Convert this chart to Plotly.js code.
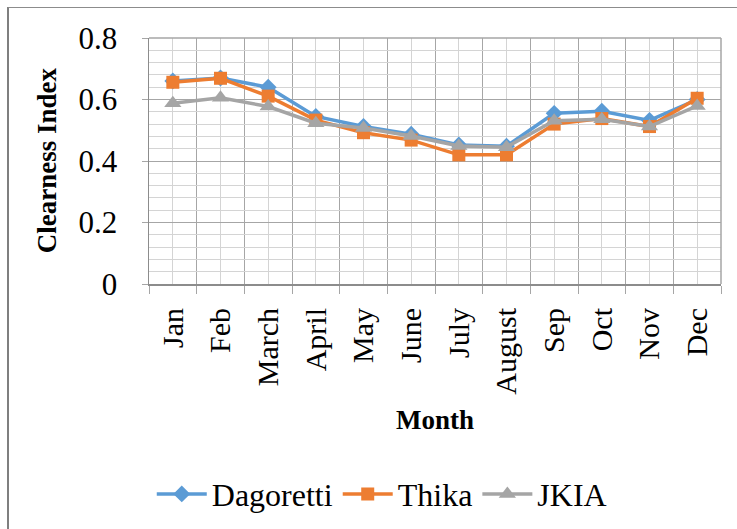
<!DOCTYPE html>
<html>
<head>
<meta charset="utf-8">
<script src="https://cdn.plot.ly/plotly-3.0.1.min.js"></script>
<style>
html,body{margin:0;padding:0;background:#fff;}
#wrap{position:relative;width:737px;height:529px;}
#chart{position:absolute;left:0;top:0;width:737px;height:529px;}
#frame{position:absolute;left:7px;top:7px;right:0;bottom:0;border-left:2px solid #7f7f7f;border-top:1px solid #8c8c8c;pointer-events:none;}
</style>
</head>
<body>
<div id="wrap"><div id="chart"></div><div id="frame"></div></div>
<script>
const months = ["Jan","Feb","March","April","May","June","July","August","Sep","Oct","Nov","Dec"];
const dagoretti = [0.66, 0.67, 0.64, 0.545, 0.512, 0.487, 0.452, 0.448, 0.555, 0.562, 0.532, 0.600];
const thika     = [0.656, 0.669, 0.611, 0.533, 0.492, 0.468, 0.420, 0.420, 0.520, 0.538, 0.512, 0.604];
const jkia      = [0.588, 0.606, 0.577, 0.523, 0.507, 0.481, 0.449, 0.445, 0.531, 0.536, 0.512, 0.579];
const yTicks = [0, 0.2, 0.4, 0.6, 0.8];
const yTickText = ["0", "0.2", "0.4", "0.6", "0.8"];

const idx = months.map((m, i) => i);
const font = "Liberation Serif, Times New Roman, serif";

const traces = [
  {x: idx, y: dagoretti, name: "Dagoretti", type: "scatter", mode: "lines+markers",
   line: {color: "#5B9BD5", width: 3.5}, marker: {symbol: "diamond", size: 13, color: "#5B9BD5"}},
  {x: idx, y: thika, name: "Thika", type: "scatter", mode: "lines+markers",
   line: {color: "#ED7D31", width: 3.5}, marker: {symbol: "square", size: 13, color: "#ED7D31"}},
  {x: idx, y: jkia, name: "JKIA", type: "scatter", mode: "lines+markers",
   line: {color: "#A5A5A5", width: 3.5}, marker: {symbol: "triangle-up", size: 15, color: "#A5A5A5"}}
];

const layout = {
  width: 737, height: 529,
  margin: {l: 149, r: 16, t: 38, b: 245, autoexpand: false},
  paper_bgcolor: "#fff", plot_bgcolor: "#fff",
  font: {family: font, color: "#000"},
  showlegend: true,
  legend: {orientation: "h", xref: "container", x: 0.518, xanchor: "center",
           yref: "container", y: 0.066, yanchor: "middle",
           font: {family: font, size: 32, color: "#000"}, itemwidth: 50, tracegroupgap: 0},
  xaxis: {
    type: "linear", range: [-0.5, 11.5], tickvals: idx, ticktext: months,
    tickangle: -90, tickfont: {family: font, size: 30, color: "#000"},
    showgrid: true, gridcolor: "#d4d4d4", gridwidth: 1,
    ticks: "", ticklabelstandoff: 10, automargin: false,
    minor: {tick0: -0.5, dtick: 1, showgrid: true, gridcolor: "#a6a6a6", gridwidth: 1,
            ticks: "outside", ticklen: 8, tickcolor: "#a6a6a6", tickwidth: 1},
    showline: true, linecolor: "#8c8c8c", linewidth: 2, mirror: false,
    zeroline: false, fixedrange: true
  },
  yaxis: {
    range: [0, 0.8], tickvals: yTicks, ticktext: yTickText, automargin: false,
    tickfont: {family: font, size: 31, color: "#000"},
    showgrid: true, gridcolor: "#a6a6a6", gridwidth: 1,
    ticks: "outside", ticklen: 6, tickcolor: "#a6a6a6", ticklabelstandoff: 18,
    minor: {dtick: 0.04, showgrid: true, gridcolor: "#d4d4d4", gridwidth: 1, ticks: ""},
    showline: true, linecolor: "#8c8c8c", linewidth: 1.5,
    zeroline: false, fixedrange: true
  },
  shapes: [
    {type: "line", xref: "paper", yref: "paper", x0: 0, x1: 1, y0: 1, y1: 1, line: {color: "#a6a6a6", width: 1.5}},
    {type: "line", xref: "paper", yref: "paper", x0: 1, x1: 1, y0: 0, y1: 1, line: {color: "#a6a6a6", width: 1.5}}
  ],
  annotations: [
    {text: "<b>Month</b>", xref: "paper", yref: "paper", x: 0.5, y: -0.553,
     xanchor: "center", yanchor: "middle", showarrow: false,
     font: {family: font, size: 27, color: "#000"}},
    {text: "<b>Clearness Index</b>", xref: "paper", yref: "paper", x: -0.178, y: 0.504,
     xanchor: "center", yanchor: "middle", showarrow: false, textangle: -90,
     font: {family: font, size: 27, color: "#000"}}
  ]
};

Plotly.newPlot("chart", traces, layout, {displayModeBar: false, staticPlot: true});
</script>
</body>
</html>
